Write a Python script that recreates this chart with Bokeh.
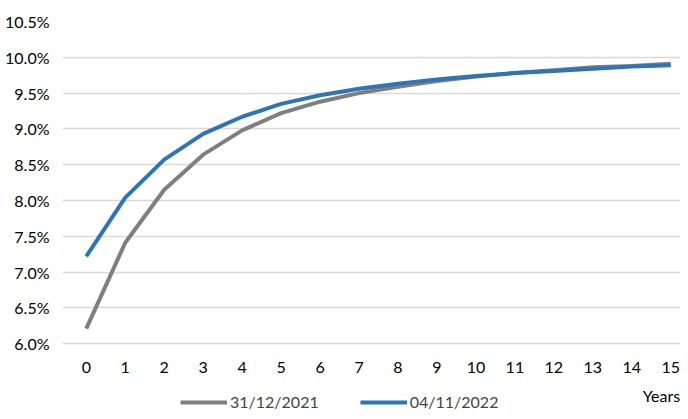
from bokeh.plotting import figure
from bokeh.models import FixedTicker, PrintfTickFormatter, Range1d, Legend, LegendItem, Label
from bokeh.embed import file_html
from bokeh.resources import INLINE

years = list(range(16))
curve_2021 = [6.21, 7.41, 8.15, 8.64, 8.98, 9.22, 9.38, 9.50, 9.59, 9.67, 9.73, 9.78, 9.82, 9.86, 9.88, 9.91]
curve_2022 = [7.22, 8.04, 8.57, 8.93, 9.17, 9.35, 9.47, 9.56, 9.63, 9.69, 9.74, 9.78, 9.81, 9.84, 9.87, 9.89]
y_ticks = [6.0, 6.5, 7.0, 7.5, 8.0, 8.5, 9.0, 9.5, 10.0, 10.5]
labels = ["31/12/2021", "04/11/2022"]

FONT = "Lato"
p = figure(width=680, height=411, output_backend="svg", toolbar_location=None,
           x_range=Range1d(-0.61, 15.25), y_range=Range1d(5.053, 10.5),
           min_border_left=62, min_border_right=0, min_border_top=21, min_border_bottom=0)
p.outline_line_color = None
p.background_fill_color = "white"
p.border_fill_color = "white"

l1 = p.line(years, curve_2021, line_color="#7f7f7f", line_width=4)
l2 = p.line(years, curve_2022, line_color="#2e75b6", line_width=4)

p.xaxis.ticker = FixedTicker(ticks=years)
p.xaxis.fixed_location = 6.0
p.yaxis.ticker = FixedTicker(ticks=y_ticks)
p.yaxis.formatter = PrintfTickFormatter(format="%.1f%%")
for ax in (p.xaxis, p.yaxis):
    ax.axis_line_color = None
    ax.major_tick_line_color = None
    ax.minor_tick_line_color = None
    ax.major_label_text_font = FONT
    ax.major_label_text_font_size = "16px"
    ax.major_label_text_color = "#000000"
p.xaxis.major_label_standoff = 12
p.yaxis.major_label_standoff = 7

p.xgrid.grid_line_color = None
p.ygrid.grid_line_color = "#d9d9d9"
p.ygrid.grid_line_width = 1.5

legend = Legend(items=[LegendItem(label=labels[0], renderers=[l1]),
                       LegendItem(label=labels[1], renderers=[l2])],
                orientation="horizontal", location=(118, 0),
                padding=0, margin=0, spacing=41,
                glyph_width=47, glyph_height=16, label_height=16, label_standoff=3,
                label_text_font=FONT, label_text_font_size="16px",
                background_fill_alpha=0, border_line_color=None)
p.add_layout(legend, "center")

p.add_layout(Label(x=15.24, y=16, x_units="data", y_units="screen", text="Years",
                   text_align="right", text_baseline="middle", text_font=FONT,
                   text_font_size="16px", text_color="#000000"))

open("out.html", "w").write(file_html(p, INLINE))
